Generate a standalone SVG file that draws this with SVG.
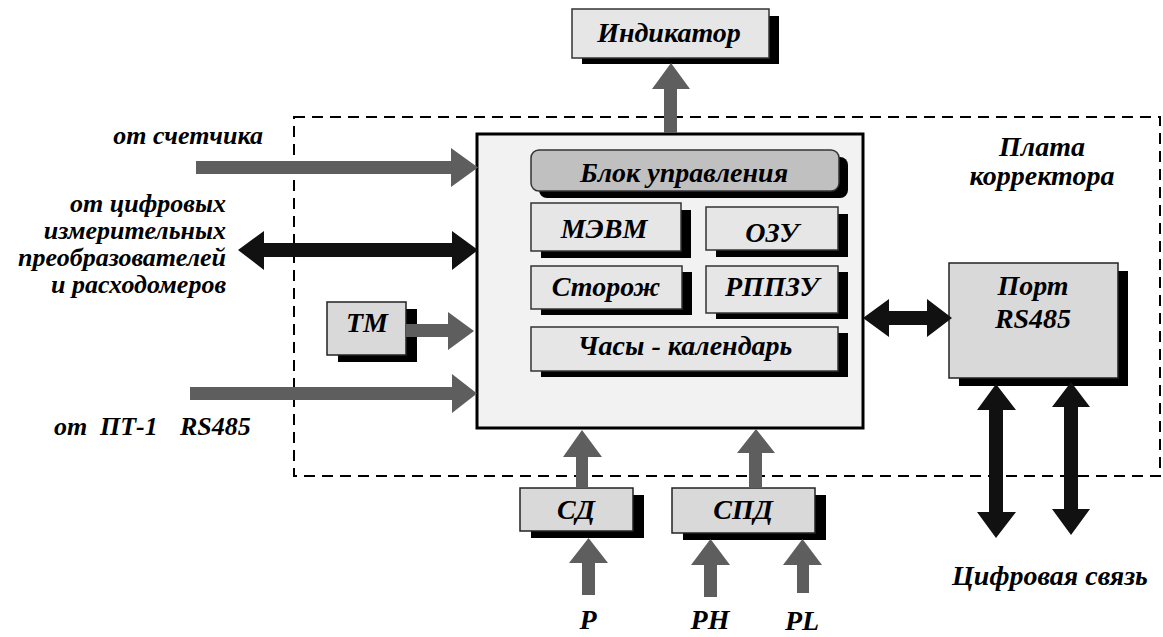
<svg xmlns="http://www.w3.org/2000/svg" width="1163" height="637" viewBox="0 0 1163 637" font-family="Liberation Serif, Times New Roman, serif" font-weight="bold" font-style="italic">
  <style>
    text { fill: #000; }
    .c { text-anchor: middle; }
    .r { text-anchor: end; }
    .f27 { font-size: 28px; }
    .f25 { font-size: 26px; }
    .sh { fill: #000; }
    .box { fill: #e6e6e6; stroke: #333; stroke-width: 1.5; }
    .box2 { fill: #d9d9d9; stroke: #222; stroke-width: 1.5; }
    .grey { fill: #5e5e5e; }
    .black { fill: #111; }
    .board { fill: none; stroke: #000; stroke-width: 2; stroke-dasharray: 11 7; }
  </style>

  <!-- corrector board outline -->
  <g id="board">
    <rect class="board" x="294" y="117" width="866" height="359"/>
    <text class="c f27" x="1042" y="156">Плата</text>
    <text class="c f27" x="1042" y="185">корректора</text>
  </g>

  <!-- central unit with its internal blocks -->
  <g id="main">
    <rect x="477" y="134" width="386" height="294" fill="#f2f2f2" stroke="#000" stroke-width="3"/>
  </g>
  <g id="control">
    <rect class="sh" x="539" y="157" width="309" height="41" rx="8"/>
    <rect x="531" y="150" width="308" height="41" rx="8" fill="#c0c0c0" stroke="#333" stroke-width="1.5"/>
    <text class="c f27" x="684" y="182">Блок управления</text>
  </g>
  <g id="mevm">
    <rect class="sh" x="541" y="210" width="150" height="48"/>
    <rect class="box" x="531" y="203" width="150" height="48"/>
    <text class="c f27" x="604" y="238">МЭВМ</text>
  </g>
  <g id="ozu">
    <rect class="sh" x="716" y="214" width="132" height="43"/>
    <rect class="box" x="706" y="207" width="132" height="43"/>
    <text class="c f27" x="772" y="242">ОЗУ</text>
  </g>
  <g id="watchdog">
    <rect class="sh" x="541" y="272" width="151" height="43"/>
    <rect class="box" x="531" y="266" width="151" height="43"/>
    <text class="c f27" x="606" y="296">Сторож</text>
  </g>
  <g id="rppzu">
    <rect class="sh" x="716" y="272" width="132" height="47"/>
    <rect class="box" x="706" y="266" width="132" height="47"/>
    <text class="c f27" x="772" y="296">РППЗУ</text>
  </g>
  <g id="clock">
    <rect class="sh" x="541" y="333" width="307" height="44"/>
    <rect class="box" x="531" y="327" width="307" height="44"/>
    <text class="c f27" x="685" y="355">Часы - календарь</text>
  </g>

  <!-- peripheral blocks -->
  <g id="indicator">
    <rect class="sh" x="582" y="16" width="197" height="48"/>
    <rect class="box" x="572" y="9" width="197" height="49"/>
    <text class="c f27" x="669" y="42">Индикатор</text>
  </g>
  <g id="tm">
    <rect class="sh" x="338" y="309" width="79" height="53"/>
    <rect class="box2" x="327" y="302" width="79" height="53"/>
    <text class="c f27" x="367" y="332">ТМ</text>
  </g>
  <g id="port">
    <rect class="sh" x="959" y="271" width="169" height="115"/>
    <rect class="box2" x="949" y="263" width="169" height="115"/>
    <text class="c f27" x="1033" y="295">Порт</text>
    <text class="c f27" x="1033" y="328">RS485</text>
  </g>
  <g id="sd">
    <rect class="sh" x="531" y="495" width="113" height="43"/>
    <rect class="box2" x="520" y="488" width="113" height="43"/>
    <text class="c f27" x="576" y="519">СД</text>
  </g>
  <g id="spd">
    <rect class="sh" x="683" y="495" width="143" height="45"/>
    <rect class="box2" x="672" y="488" width="143" height="45"/>
    <text class="c f27" x="743" y="519">СПД</text>
  </g>

  <!-- connectors -->
  <g id="connectors">
    <polygon class="grey" points="664,133 664,89 652,89 671,63 690,89 677,89 677,133"/>
    <polygon class="grey" points="196,161 451,161 451,148 478,167.5 451,187 451,174 196,174"/>
    <polygon class="black" points="238,250 264,231 264,243 452,243 452,231 478,250 452,270 452,257 264,257 264,270"/>
    <polygon class="grey" points="406,324 448,324 448,312 474,331 448,350 448,337 406,337"/>
    <polygon class="grey" points="190,387 452,387 452,374 477,393.5 452,413 452,400 190,400"/>
    <polygon class="black" points="863,318 889,299 889,311 927,311 927,299 952,318 927,337 927,325 889,325 889,337"/>
    <polygon class="black" points="996,384 1016,410 1003,410 1003,512 1016,512 996,538 977,512 989,512 989,410 977,410"/>
    <polygon class="black" points="1071,382 1090,407 1078,407 1078,509 1090,509 1071,535 1052,509 1064,509 1064,407 1052,407"/>
    <polygon class="grey" points="576,488 576,457 563,457 582,430 602,457 588,457 588,488"/>
    <polygon class="grey" points="749,488 749,453 737,453 756,429 775,453 762,453 762,488"/>
    <polygon class="grey" points="582,595 582,563 569,563 588.5,538 608,563 595,563 595,595"/>
    <polygon class="grey" points="704,597 704,565 691,565 710.5,539 730,565 717,565 717,597"/>
    <polygon class="grey" points="797,593 797,565 783,565 802.5,539 822,565 809,565 809,593"/>
  </g>

  <!-- signal labels -->
  <g id="labels">
    <text class="r f25" x="263" y="144">от счетчика</text>
    <text class="r f25" x="226" y="212">от цифровых</text>
    <text class="r f25" x="226" y="239">измерительных</text>
    <text class="r f25" x="226" y="266">преобразователей</text>
    <text class="r f25" x="226" y="293">и расходомеров</text>
    <text class="f25" y="435"><tspan x="54">от</tspan><tspan x="100">ПТ-1</tspan><tspan x="180">RS485</tspan></text>
    <text class="c f27" x="588" y="629">P</text>
    <text class="c f27" x="710" y="629">PH</text>
    <text class="c f27" x="802" y="630">PL</text>
    <text class="c f27" x="1050" y="585">Цифровая связь</text>
  </g>
</svg>
